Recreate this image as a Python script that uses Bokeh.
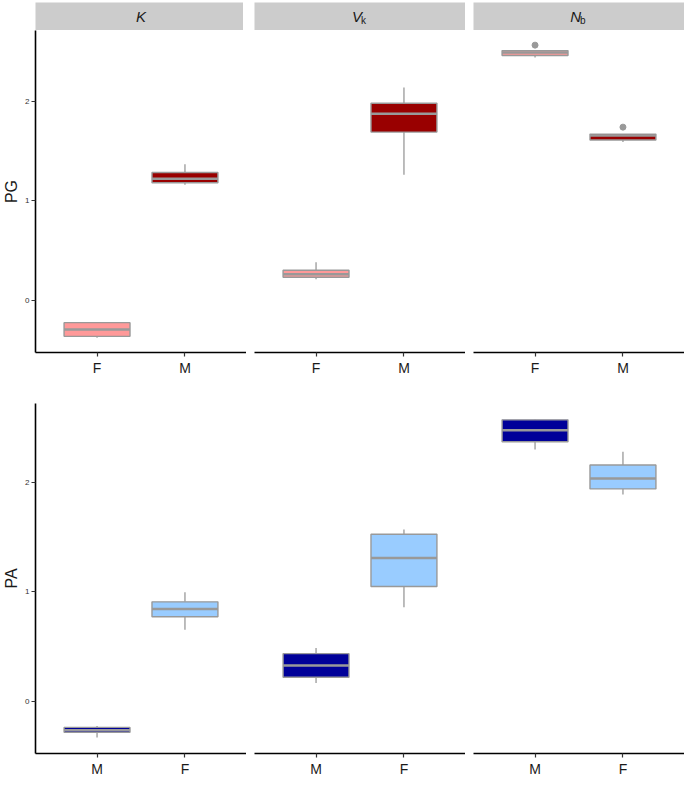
from bokeh.plotting import figure
from bokeh.models import FactorRange, Range1d, FixedTicker, ColumnDataSource
from bokeh.layouts import column, row
from bokeh.embed import file_html
from bokeh.resources import INLINE
from bokeh.core.properties import value

# ---------------- data ----------------
panels = ["K", "Vk", "Nb"]
strip_main = ["K", "V", "N"]
strip_sub = ["", "k", "b"]

# PG row (category order F, M)
pg_panel = ["K", "K", "Vk", "Vk", "Nb", "Nb"]
pg_sex = ["F", "M", "F", "M", "F", "M"]
pg_whislo = [-0.38, 1.16, 0.21, 1.26, 2.44, 1.59]
pg_q1 = [-0.365, 1.18, 0.23, 1.69, 2.46, 1.61]
pg_med = [-0.296, 1.22, 0.26, 1.875, 2.49, 1.655]
pg_q3 = [-0.227, 1.284, 0.30, 1.98, 2.51, 1.67]
pg_whishi = [-0.22, 1.367, 0.38, 2.14, 2.51, 1.67]
pg_out_panel = ["Nb", "Nb"]
pg_out_sex = ["F", "M"]
pg_out_y = [2.565, 1.74]

# PA row (category order M, F)
pa_panel = ["K", "K", "Vk", "Vk", "Nb", "Nb"]
pa_sex = ["M", "F", "M", "F", "M", "F"]
pa_whislo = [-0.328, 0.655, 0.17, 0.86, 2.30, 1.89]
pa_q1 = [-0.28, 0.774, 0.223, 1.05, 2.37, 1.94]
pa_med = [-0.262, 0.845, 0.33, 1.31, 2.476, 2.036]
pa_q3 = [-0.235, 0.91, 0.4375, 1.527, 2.57, 2.158]
pa_whishi = [-0.223, 0.997, 0.488, 1.57, 2.574, 2.28]

pg_colors = {"F": "#FF9999", "M": "#990000"}
pa_colors = {"M": "#000099", "F": "#99CCFF"}
pg_order = ["F", "M"]
pa_order = ["M", "F"]

FONT = "Liberation Sans"
GREY = "#999999"
FW = 211
LEFT = 32
GAP = 8


def yrange(lo_list, hi_list):
    lo = min(lo_list)
    hi = max(hi_list)
    pad = 0.05 * (hi - lo)
    return Range1d(lo - pad, hi + pad)


def make_panel(idx, panel_list, sex_list, wlo, q1, med, q3, whi, colors, order,
               yr, frame_h, bottom, ylabel, out=None):
    pname = panels[idx]
    sel = [i for i, pn in enumerate(panel_list) if pn == pname]
    src = ColumnDataSource(dict(
        x=[sex_list[i] for i in sel],
        wlo=[wlo[i] for i in sel],
        q1=[q1[i] for i in sel],
        med=[med[i] for i in sel],
        q3=[q3[i] for i in sel],
        whi=[whi[i] for i in sel],
        col=[colors[sex_list[i]] for i in sel],
    ))
    p = figure(frame_width=FW, frame_height=frame_h,
               x_range=FactorRange(factors=order, range_padding=0.2,
                                   range_padding_units="absolute"),
               y_range=yr, toolbar_location=None, output_backend="svg",
               min_border_left=LEFT if idx == 0 else GAP, min_border_right=0,
               min_border_top=0, min_border_bottom=bottom,
               background_fill_color="white", border_fill_color="white",
               outline_line_color=None)
    p.xgrid.visible = False
    p.ygrid.visible = False
    # whiskers
    p.segment(x0="x", y0="q3", x1="x", y1="whi", source=src,
              line_color=GREY, line_width=1.3)
    p.segment(x0="x", y0="q1", x1="x", y1="wlo", source=src,
              line_color=GREY, line_width=1.3)
    # boxes
    p.vbar(x="x", width=0.75, bottom="q1", top="q3", source=src,
           fill_color="col", line_color=GREY, line_width=1.4)
    # median
    p.vbar(x="x", width=0.75, bottom="med", top="med", source=src,
           fill_alpha=0, line_color=GREY, line_width=2.5)
    if out is not None:
        op, osx, oy = out
        xs = [osx[i] for i in range(len(op)) if op[i] == pname]
        ys = [oy[i] for i in range(len(op)) if op[i] == pname]
        if xs:
            p.scatter(x=xs, y=ys, size=6, fill_color=GREY, line_color=GREY)
    # axes
    xa = p.xaxis[0]
    xa.axis_line_color = "black"
    xa.axis_line_width = 1.6
    xa.major_tick_line_color = "#333333"
    xa.major_tick_line_width = 1.2
    xa.major_tick_in = 0
    xa.major_tick_out = 4
    xa.minor_tick_line_color = None
    xa.major_label_text_font = FONT
    xa.major_label_text_font_size = "14px"
    xa.major_label_text_color = "#1a1a1a"
    xa.major_label_standoff = 3
    ya = p.yaxis[0]
    if idx == 0:
        ya.ticker = FixedTicker(ticks=[0, 1, 2])
        ya.axis_line_color = "black"
        ya.axis_line_width = 1.6
        ya.major_tick_line_color = "#333333"
        ya.major_tick_line_width = 1.2
        ya.major_tick_in = 0
        ya.major_tick_out = 4
        ya.minor_tick_line_color = None
        ya.major_label_text_font = FONT
        ya.major_label_text_font_size = "8px"
        ya.major_label_text_color = "#333333"
        ya.major_label_standoff = 2
        ya.axis_label = ylabel
        ya.axis_label_text_font = FONT
        ya.axis_label_text_font_size = "16px"
        ya.axis_label_text_font_style = "normal"
        ya.axis_label_text_color = "#1a1a1a"
        ya.axis_label_standoff = 2
    else:
        ya.visible = False
    return p


def make_strip(idx):
    s = figure(frame_width=FW, frame_height=28,
               x_range=Range1d(0, 1), y_range=Range1d(0, 1),
               toolbar_location=None, output_backend="svg",
               min_border_left=LEFT if idx == 0 else GAP, min_border_right=0,
               min_border_top=2, min_border_bottom=0,
               background_fill_color="#CCCCCC", border_fill_color="white",
               outline_line_color=None)
    s.xaxis.visible = False
    s.yaxis.visible = False
    s.xgrid.visible = False
    s.ygrid.visible = False
    main = strip_main[idx]
    sub = strip_sub[idx]
    if sub:
        s.text(x=[0.5], y=[0.5], text=[main], x_offset=2,
               text_align="right", text_baseline="middle",
               text_font=value(FONT), text_font_style="italic",
               text_font_size="15px", text_color="#1a1a1a")
        s.text(x=[0.5], y=[0.5], text=[sub], x_offset=1, y_offset=4,
               text_align="left", text_baseline="middle",
               text_font=value(FONT), text_font_size="10px",
               text_color="#1a1a1a")
    else:
        s.text(x=[0.5], y=[0.5], text=[main],
               text_align="center", text_baseline="middle",
               text_font=value(FONT), text_font_style="italic",
               text_font_size="15px", text_color="#1a1a1a")
    return s


pg_yr = yrange(pg_whislo + pg_out_y, pg_whishi + pg_out_y)
pa_yr = yrange(pa_whislo, pa_whishi)

top_cols = []
for i in range(3):
    strip = make_strip(i)
    pg = make_panel(i, pg_panel, pg_sex, pg_whislo, pg_q1, pg_med, pg_q3,
                    pg_whishi, pg_colors, pg_order, pg_yr, 322, 51, "PG",
                    out=(pg_out_panel, pg_out_sex, pg_out_y))
    top_cols.append(column(strip, pg, spacing=0))

bottom_figs = []
for i in range(3):
    pa = make_panel(i, pa_panel, pa_sex, pa_whislo, pa_q1, pa_med, pa_q3,
                    pa_whishi, pa_colors, pa_order, pa_yr, 350, 28, "PA")
    bottom_figs.append(pa)

layout = column(row(*top_cols, spacing=0), row(*bottom_figs, spacing=0),
                spacing=0)

open("out.html", "w").write(file_html(layout, INLINE))
